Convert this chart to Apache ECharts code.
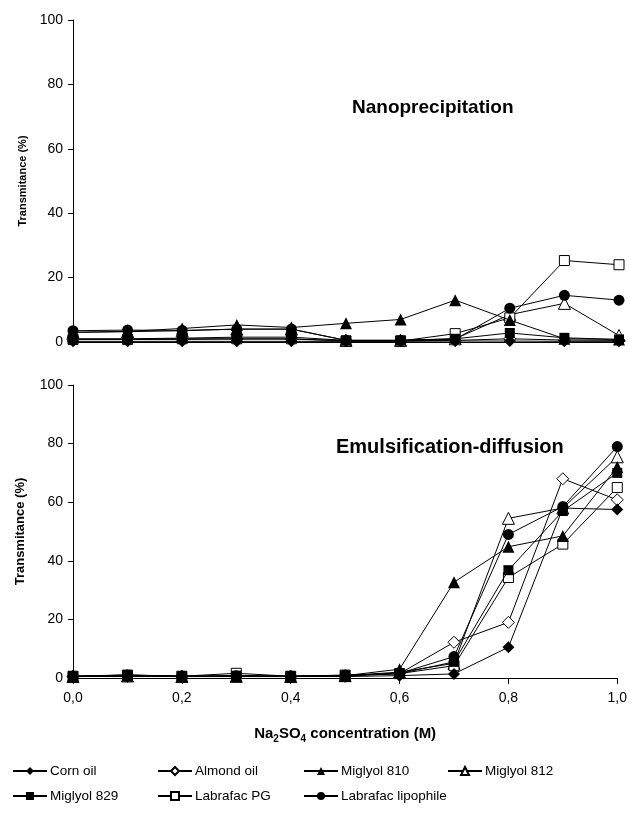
<!DOCTYPE html>
<html>
<head>
<meta charset="utf-8">
<script src="https://cdn.jsdelivr.net/npm/echarts@6/dist/echarts.min.js"></script>
<style>
html, body { margin: 0; padding: 0; background: #fff; }
#chart { width: 630px; height: 814px; }
</style>
</head>
<body>
<div id="chart"></div>
<script>
// Na2SO4 concentration (M)
var concentrations = [0, 0.1, 0.2, 0.3, 0.4, 0.5, 0.6, 0.7, 0.8, 0.9, 1.0]
var oilNames = ['Corn oil', 'Almond oil', 'Miglyol 810', 'Miglyol 812', 'Miglyol 829', 'Labrafac PG', 'Labrafac lipophile']

// transmitance (%) - nanoprecipitation
var nanoCornOil = [0.2, 0.2, 0.2, 0.2, 0.2, 0.2, 0.2, 0.3, 0.3, 0.2, 0.2]
var nanoAlmondOil = [0.8, 0.8, 0.8, 0.9, 0.9, 0.4, 0.4, 0.5, 1.0, 0.6, 0.5]
var nanoMiglyol810 = [3.0, 3.3, 4.2, 5.3, 4.5, 5.8, 7.0, 13.0, 6.8, 1.0, 0.8]
var nanoMiglyol812 = [3.0, 3.2, 3.5, 4.0, 4.0, 0.5, 0.5, 1.0, 8.5, 12.0, 2.0]
var nanoMiglyol829 = [1.0, 1.0, 1.2, 1.5, 1.5, 0.5, 0.5, 1.0, 2.8, 1.3, 0.8]
var nanoLabrafacPG = [0.8, 0.8, 1.0, 1.0, 1.0, 0.3, 0.3, 2.6, 7.5, 25.3, 24.0]
var nanoLabrafacLipo = [3.5, 3.7, 3.6, 4.0, 4.0, 0.5, 0.5, 0.8, 10.5, 14.5, 13.0]

// transmitance (%) - emulsification-diffusion
var emulCornOil = [0.5, 0.5, 0.5, 0.5, 0.5, 0.5, 0.8, 1.4, 10.5, 58.0, 57.5]
var emulAlmondOil = [0.5, 0.6, 0.5, 0.6, 0.5, 0.6, 1.5, 12.2, 19.0, 68.0, 60.8]
var emulMiglyol810 = [0.5, 0.8, 0.5, 0.5, 0.5, 0.8, 3.0, 32.7, 44.8, 48.5, 72.0]
var emulMiglyol812 = [0.5, 0.7, 0.5, 0.6, 0.5, 0.8, 2.0, 5.0, 54.5, 58.0, 75.5]
var emulMiglyol829 = [0.6, 1.0, 0.6, 0.8, 0.6, 0.9, 1.5, 5.5, 36.8, 57.0, 70.0]
var emulLabrafacPG = [0.6, 1.0, 0.6, 1.6, 0.6, 1.0, 1.5, 4.2, 34.3, 45.7, 65.0]
var emulLabrafacLipo = [0.7, 1.0, 0.7, 0.8, 0.7, 0.9, 1.6, 7.3, 49.0, 58.5, 79.0]

var nanoData = [nanoCornOil, nanoAlmondOil, nanoMiglyol810, nanoMiglyol812, nanoMiglyol829, nanoLabrafacPG, nanoLabrafacLipo]
var emulData = [emulCornOil, emulAlmondOil, emulMiglyol810, emulMiglyol812, emulMiglyol829, emulLabrafacPG, emulLabrafacLipo]

var font = 'Arial, "Liberation Sans", sans-serif'

// marker per oil: [symbol, size, filled]
var markers = [
  ['diamond', 12, true],
  ['diamond', 12, false],
  ['triangle', 12, true],
  ['triangle', 12, false],
  ['rect', 10, true],
  ['rect', 10, false],
  ['circle', 11, true]
]

// legend slots (column x, row y)
var legendPos = [
  [12, 769], [157, 769], [303, 769], [447, 769],
  [12, 794], [157, 794], [303, 794]
]

function pairs(values) {
  return concentrations.map((x, i) => [x, values[i]])
}

function makeSeries(values, idx, gridIdx) {
  var m = markers[idx]
  return {
    name: oilNames[idx],
    type: 'line',
    xAxisIndex: gridIdx,
    yAxisIndex: gridIdx,
    data: pairs(values),
    symbol: m[0],
    symbolSize: m[1],
    showAllSymbol: true,
    clip: false,
    // open markers sit under the filled ones, as in the original
    z: m[2] ? 3 : 2,
    lineStyle: { color: '#000', width: 1 },
    itemStyle: {
      color: m[2] ? '#000' : '#fff',
      borderColor: '#000',
      borderWidth: m[2] ? 0 : 1
    },
    emphasis: { disabled: true },
    animation: false
  }
}

function yAxisOf(gridIdx, nameSize, gap) {
  return {
    gridIndex: gridIdx,
    type: 'value',
    min: 0,
    max: 100,
    interval: 20,
    name: 'Transmitance (%)',
    nameLocation: 'middle',
    nameGap: gap,
    nameTextStyle: { fontFamily: font, fontSize: nameSize, fontWeight: 'bold', color: '#000' },
    axisLine: { show: true, lineStyle: { color: '#000', width: 1 } },
    axisTick: { show: true, length: 5, lineStyle: { color: '#000' } },
    axisLabel: { fontFamily: font, fontSize: 14, color: '#000', margin: 10 },
    splitLine: { show: false }
  }
}

var series = []
nanoData.forEach((v, i) => series.push(makeSeries(v, i, 0)))
emulData.forEach((v, i) => series.push(makeSeries(v, i, 1)))

var legends = oilNames.map((name, i) => ({
  data: [name],
  left: legendPos[i][0],
  top: legendPos[i][1] - 5,
  itemWidth: 34,
  itemHeight: 10,
  itemGap: 0,
  padding: 0,
  selectedMode: false,
  textStyle: { fontFamily: font, fontSize: 13.5, color: '#000', padding: [0, 0, 0, -2] }
}))

var option = {
  backgroundColor: '#fff',
  animation: false,
  title: [
    {
      text: 'Nanoprecipitation',
      left: 352,
      top: 98,
      padding: 0,
      textStyle: { fontFamily: font, fontSize: 19, fontWeight: 'bold', color: '#000' }
    },
    {
      text: 'Emulsification-diffusion',
      left: 336,
      top: 437,
      padding: 0,
      textStyle: { fontFamily: font, fontSize: 20, fontWeight: 'bold', color: '#000' }
    }
  ],
  legend: legends,
  grid: [
    { left: 73, top: 20, width: 546, height: 322 },
    { left: 73, top: 385, width: 546, height: 293 }
  ],
  xAxis: [
    {
      gridIndex: 0,
      type: 'value',
      min: 0,
      max: 1,
      interval: 0.2,
      axisLine: { show: true, lineStyle: { color: '#000', width: 1 } },
      axisTick: { show: false },
      axisLabel: { show: false },
      splitLine: { show: false }
    },
    {
      gridIndex: 1,
      type: 'value',
      min: 0,
      max: 1,
      interval: 0.2,
      name: '{b|Na}{s|2}{b|SO}{s|4}{b| concentration (M)}',
      nameLocation: 'middle',
      nameGap: 46,
      nameTextStyle: {
        rich: {
          b: { fontFamily: font, fontSize: 15, fontWeight: 'bold', color: '#000', lineHeight: 20 },
          s: { fontFamily: font, fontSize: 10, fontWeight: 'bold', color: '#000', lineHeight: 20, verticalAlign: 'bottom', padding: [9, 0, 0, 0] }
        }
      },
      axisLine: { show: true, lineStyle: { color: '#000', width: 1 } },
      axisTick: { show: true, length: 6, lineStyle: { color: '#000' } },
      axisLabel: {
        fontFamily: font,
        fontSize: 14,
        color: '#000',
        margin: 13,
        formatter: v => v.toFixed(1).replace('.', ',')
      },
      splitLine: { show: false }
    }
  ],
  yAxis: [yAxisOf(0, 11, 42), yAxisOf(1, 13, 46)],
  series: series
}

var chart = echarts.init(document.getElementById('chart'))
chart.setOption(option)
</script>
</body>
</html>
